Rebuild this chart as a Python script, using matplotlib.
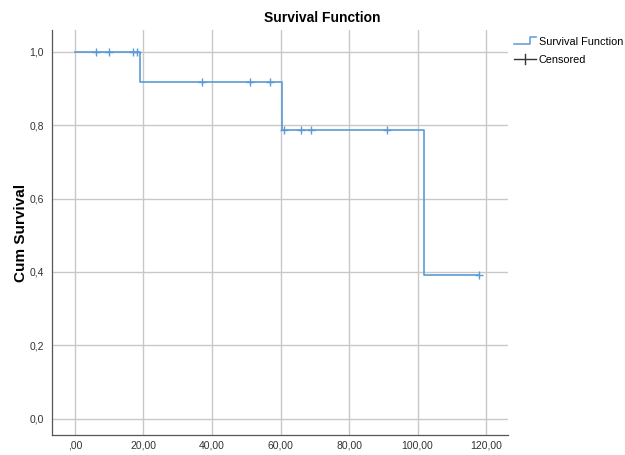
import matplotlib
matplotlib.use('Agg')
import matplotlib.pyplot as plt
from matplotlib.lines import Line2D
from matplotlib.legend_handler import HandlerBase

# step function: times where the curve changes and the survival level from there on
step_times = [0, 19, 60.3, 102, 118]
step_surv = [1.0, 0.917, 0.786, 0.393, 0.393]

# censored observations
cens_times = [6, 10, 17, 18.2, 37, 51, 57, 61, 66, 69, 91, 118]
cens_surv = [1.0, 1.0, 1.0, 1.0, 0.917, 0.917, 0.917, 0.786, 0.786, 0.786, 0.786, 0.393]

x_ticks = [0, 20, 40, 60, 80, 100, 120]
x_labels = [',00', '20,00', '40,00', '60,00', '80,00', '100,00', '120,00']
y_ticks = [0.0, 0.2, 0.4, 0.6, 0.8, 1.0]
y_labels = ['0,0', '0,2', '0,4', '0,6', '0,8', '1,0']

blue = '#5b9bd5'
font = ['Liberation Sans', 'DejaVu Sans']


class StepHandler(HandlerBase):
    """legend handle drawn as a little step"""
    def create_artists(self, legend, orig_handle, xdescent, ydescent,
                       width, height, fontsize, trans):
        x0, x1 = -xdescent, -xdescent + width
        y0, y1 = -ydescent + 0.1 * height, -ydescent + 0.95 * height
        xm = x0 + 0.72 * width
        ln = Line2D([x0, xm, xm, x1], [y0, y0, y1, y1], color=blue, lw=1.1,
                    transform=trans)
        return [ln]


class CrossHandler(HandlerBase):
    """legend handle: long horizontal line with a short tick"""
    def create_artists(self, legend, orig_handle, xdescent, ydescent,
                       width, height, fontsize, trans):
        x0, x1 = -xdescent, -xdescent + width
        yc = -ydescent + 0.5 * height
        xm = x0 + 0.5 * width
        h = Line2D([x0, x1], [yc, yc], color='#333333', lw=1.0, transform=trans)
        v = Line2D([xm, xm], [yc - 0.6 * height, yc + 0.6 * height],
                   color='#333333', lw=1.0, transform=trans)
        return [h, v]


fig = plt.figure(figsize=(6.25, 4.55), dpi=100)
ax = fig.add_axes([0.0832, 0.044, 0.7296, 0.890])

ax.step(step_times, step_surv, where='post', color=blue, lw=1.2, zorder=3)
ax.plot(cens_times, cens_surv, linestyle='none', marker='+', ms=6, mew=1.0,
        color=blue, zorder=4)

ax.set_xlim(-6.7, 126.4)
ax.set_ylim(-0.044, 1.059)
ax.set_xticks(x_ticks)
ax.set_xticklabels(x_labels, family=font)
ax.set_yticks(y_ticks)
ax.set_yticklabels(y_labels, family=font)
ax.tick_params(length=0, labelsize=7.5, colors='#333333')
ax.tick_params(axis='x', pad=4)
ax.tick_params(axis='y', pad=6)

ax.grid(True, color='#c8c8c8', lw=1.0, zorder=0)
ax.set_axisbelow(True)
for s in ['top', 'right']:
    ax.spines[s].set_visible(False)
for s in ['left', 'bottom']:
    ax.spines[s].set_color('#555555')
    ax.spines[s].set_linewidth(0.9)

ax.set_ylabel('Cum Survival', fontsize=11, fontweight='bold', family=font)
ax.yaxis.set_label_coords(-0.053, 0.5)
fig.text(0.515, 0.96, 'Survival Function', ha='center', va='center',
         fontsize=10, fontweight='bold', family=font)

h_surv = Line2D([], [], color=blue)
h_cens = Line2D([], [], color='#333333')
fig.legend([h_surv, h_cens], ['Survival Function', 'Censored'],
           loc='upper left', bbox_to_anchor=(0.815, 0.929), frameon=False,
           prop={'family': font, 'size': 7.8}, handlelength=2.1,
           handletextpad=0.2, labelspacing=0.75, borderaxespad=0,
           handler_map={h_surv: StepHandler(), h_cens: CrossHandler()})

fig.savefig('out.png', dpi=100)
